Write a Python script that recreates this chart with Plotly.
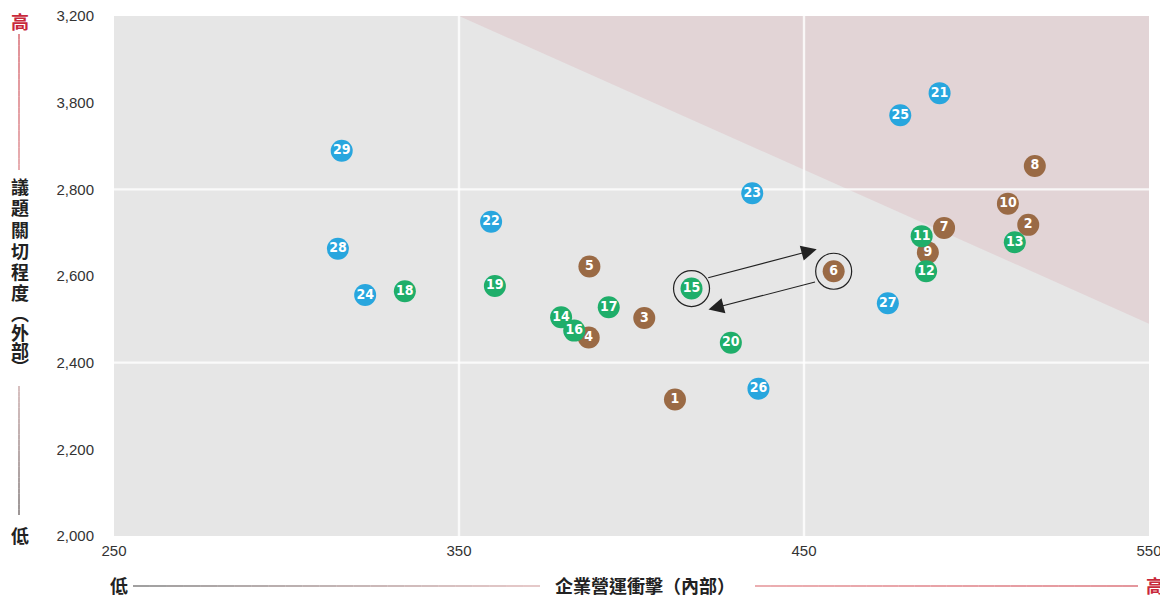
import plotly.graph_objects as go

# ---------------- data ----------------
ids = [1, 2, 3, 4, 5, 6, 7, 8, 9, 10,
       11, 12, 13, 14, 15, 16, 17, 18, 19, 20,
       21, 22, 23, 24, 25, 26, 27, 28, 29]
impact_internal = [412.6, 515.0, 403.7, 387.6, 387.8, 458.6, 490.6, 516.9, 485.9, 509.1,
                   484.1, 485.4, 511.1, 379.6, 417.4, 383.4, 393.4, 334.3, 360.4, 428.8,
                   489.3, 359.3, 435.0, 322.8, 477.9, 436.8, 474.3, 314.9, 316.0]
concern_external = [2315, 2718, 2503, 2458, 2622, 2611, 2711, 2854, 2654, 2767,
                    2692, 2611, 2678, 2505, 2571, 2474, 2528, 2565, 2577, 2446,
                    3022, 2725, 2791, 2556, 2971, 2340, 2537, 2663, 2889]
group = ["brown"] * 10 + ["green"] * 10 + ["blue"] * 9

highlight_ids = [15, 6]

x_ticks = [250, 350, 450, 550]
x_ticktext = ["250", "350", "450", "550"]
y_ticks = [2000, 2200, 2400, 2600, 2800, 3000, 3200]
y_ticktext = ["2,000", "2,200", "2,400", "2,600", "2,800", "3,800", "3,200"]
x_range = [250, 550]
y_range = [2000, 3200]
grid_x = [350, 450]
grid_y = [2400, 2800]
zone_x = [350, 550, 550]
zone_y = [3200, 3200, 2490]

x_title = "企業營運衝擊（內部）"
y_title = "議題關切程度（外部）"
low_label = "低"
high_label = "高"

# ---------------- style ----------------
colors = {"brown": "#9a6a45", "green": "#1fae6a", "blue": "#28a6de"}
order = ["brown", "green", "blue"]
OFF = 8  # page body margin
W, H = 1168 - OFF, 598 - OFF
# plot area in window pixels: left 114, right 1149, top 16, bottom 536
L, T = 114 - OFF, 16 - OFF
R = W - (1149 - OFF)
B = H - (536 - OFF)
PW, PH = W - L - R, H - T - B
CJK = "Noto Sans CJK TC, Noto Sans CJK SC, sans-serif"
NUMF = "Liberation Sans Narrow, DejaVu Sans Condensed, Arial Narrow, sans-serif"
TICKF = "Liberation Sans, Arial, Helvetica, sans-serif"
RED = "#c8283a"


def pxx(px):  # window px -> paper x
    return (px - OFF - L) / PW


def pxy(py):  # window px -> paper y
    return (H - B - (py - OFF)) / PH


fig = go.Figure()

for g in order:
    xs = [impact_internal[i] for i in range(len(ids)) if group[i] == g]
    ys = [concern_external[i] for i in range(len(ids)) if group[i] == g]
    ts = [str(ids[i]) for i in range(len(ids)) if group[i] == g]
    fig.add_trace(go.Scatter(
        x=xs, y=ys, text=ts, mode="markers+text",
        marker=dict(size=22, color=colors[g], line=dict(width=0)),
        textposition="middle center",
        textfont=dict(family=NUMF, size=14, color="white", weight="bold"),
        hoverinfo="skip", showlegend=False, cliponaxis=False,
    ))

hx = [impact_internal[ids.index(h)] for h in highlight_ids]
hy = [concern_external[ids.index(h)] for h in highlight_ids]
fig.add_trace(go.Scatter(
    x=hx, y=hy, mode="markers",
    marker=dict(size=36, color="rgba(0,0,0,0)", line=dict(width=1.2, color="#222")),
    hoverinfo="skip", showlegend=False,
))

# arrows between highlighted points
p15 = (impact_internal[ids.index(15)], concern_external[ids.index(15)])
p6 = (impact_internal[ids.index(6)], concern_external[ids.index(6)])
annotations = [
    dict(x=p6[0], y=p6[1], xref="x", yref="y", xshift=-17, yshift=22,
         ax=-110, ay=29, axref="pixel", ayref="pixel",
         showarrow=True, arrowhead=2, arrowsize=2.8, arrowwidth=1.1,
         arrowcolor="#222", text=""),
    dict(x=p15[0], y=p15[1], xref="x", yref="y", xshift=17, yshift=-21,
         ax=108, ay=-28, axref="pixel", ayref="pixel",
         showarrow=True, arrowhead=2, arrowsize=2.8, arrowwidth=1.1,
         arrowcolor="#222", text=""),
]

# axis titles
tfont = dict(family=CJK, size=18, color="#222", weight="bold")
rfont = dict(family=CJK, size=18, color=RED, weight="bold")
annotations += [
    dict(x=pxx(645), y=pxy(585), xref="paper", yref="paper", text=x_title,
         showarrow=False, font=tfont, xanchor="center", yanchor="middle"),
    dict(x=pxx(119), y=pxy(585), xref="paper", yref="paper", text=low_label,
         showarrow=False, font=tfont, xanchor="center", yanchor="middle"),
    dict(x=pxx(1155), y=pxy(585), xref="paper", yref="paper", text=high_label,
         showarrow=False, font=rfont, xanchor="center", yanchor="middle"),
    dict(x=pxx(20), y=pxy(21), xref="paper", yref="paper", text=high_label,
         showarrow=False, font=rfont, xanchor="center", yanchor="middle"),
    dict(x=pxx(20), y=pxy(535), xref="paper", yref="paper", text=low_label,
         showarrow=False, font=tfont, xanchor="center", yanchor="middle"),
]
vert = y_title.replace("（", "︵").replace("）", "︶")
char_y = [186, 207, 229, 250, 271, 292, 313, 332, 350, 366]
for ch, cy in zip(vert, char_y):
    annotations.append(dict(
        x=pxx(20), y=pxy(cy), xref="paper", yref="paper", text=ch,
        showarrow=False, font=dict(family=CJK, size=18, color="#222", weight="bold"),
        xanchor="center", yanchor="middle",
    ))

shapes = []
# risk zone
path = "M " + " L ".join(f"{x},{y}" for x, y in zip(zone_x, zone_y)) + " Z"
shapes.append(dict(type="path", path=path, xref="x", yref="y",
                   fillcolor="#e2d4d6", line=dict(width=0), layer="below"))
for gx in grid_x:
    shapes.append(dict(type="line", xref="x", yref="y", x0=gx, x1=gx,
                       y0=y_range[0], y1=y_range[1],
                       line=dict(color="rgba(255,255,255,0.8)", width=2.4), layer="below"))
for gy in grid_y:
    shapes.append(dict(type="line", xref="x", yref="y", x0=x_range[0], x1=x_range[1],
                       y0=gy, y1=gy,
                       line=dict(color="rgba(255,255,255,0.8)", width=2.4), layer="below"))


def grad_line(x0, y0, x1, y1, c0, c1, n=24, w=1.2):
    out = []
    for k in range(n):
        t0, t1 = k / n, (k + 1) / n
        tm = (t0 + t1) / 2
        c = tuple(round(c0[j] + (c1[j] - c0[j]) * tm) for j in range(3))
        out.append(dict(type="line", xref="paper", yref="paper",
                        x0=pxx(x0 + (x1 - x0) * t0), x1=pxx(x0 + (x1 - x0) * t1),
                        y0=pxy(y0 + (y1 - y0) * t0), y1=pxy(y0 + (y1 - y0) * t1),
                        line=dict(color=f"rgb{c}", width=w)))
    return out


# bottom axis decoration lines
shapes += grad_line(133, 586, 540, 586, (95, 95, 95), (215, 165, 165))
shapes += grad_line(755, 586, 1138, 586, (222, 120, 125), (210, 80, 90))
# left axis decoration lines
shapes += grad_line(19, 34, 19, 170, (205, 70, 80), (215, 120, 125))
shapes += grad_line(19, 386, 19, 515, (190, 150, 150), (90, 80, 80))

fig.update_layout(
    width=W, height=H,
    margin=dict(l=L, r=R, t=T, b=B, pad=0, autoexpand=False),
    paper_bgcolor="white", plot_bgcolor="#e6e6e6",
    shapes=shapes, annotations=annotations,
    xaxis=dict(range=x_range, tickvals=x_ticks, ticktext=x_ticktext,
               showgrid=False, zeroline=False, showline=False,
               ticks="outside", ticklen=1, tickcolor="rgba(0,0,0,0)",
               ticklabeloverflow="allow", automargin=False,
               tickfont=dict(family=TICKF, size=15, color="#333"), fixedrange=True),
    yaxis=dict(range=y_range, tickvals=y_ticks, ticktext=y_ticktext,
               showgrid=False, zeroline=False, showline=False,
               ticks="outside", ticklen=16, tickcolor="rgba(0,0,0,0)",
               ticklabeloverflow="allow", automargin=False,
               tickfont=dict(family=TICKF, size=15, color="#333"), fixedrange=True),
)

fig.write_html("out.html")
